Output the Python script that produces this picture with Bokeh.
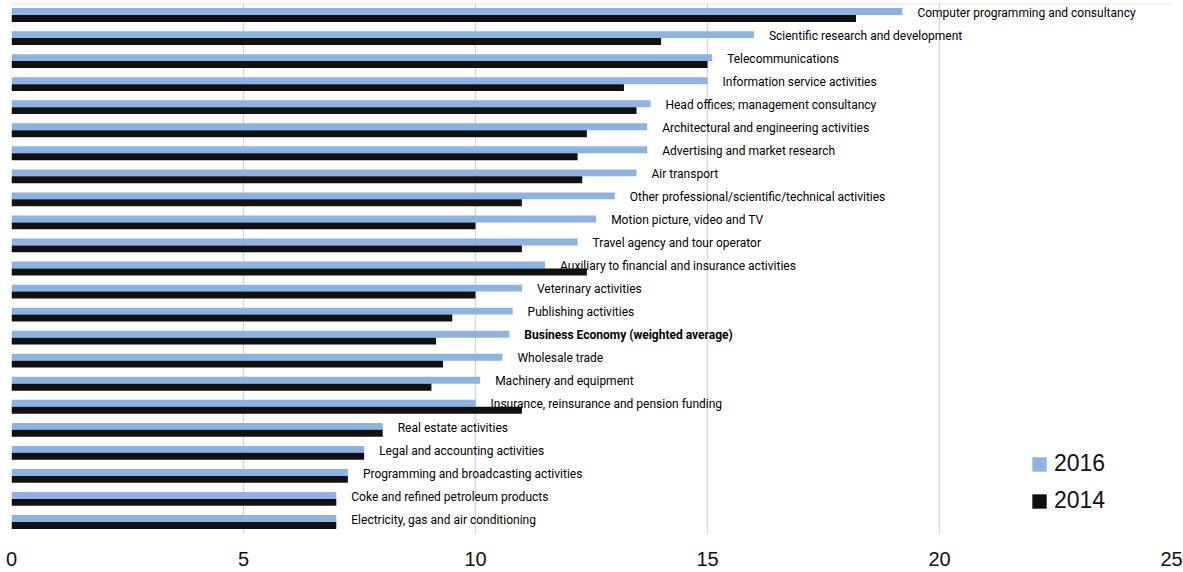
from bokeh.plotting import figure
from bokeh.models import Span, ColumnDataSource, Range1d
from bokeh.core.properties import value
from bokeh.embed import file_html
from bokeh.resources import INLINE

categories = [
    "Computer programming and consultancy",
    "Scientific research and development",
    "Telecommunications",
    "Information service activities",
    "Head offices; management consultancy",
    "Architectural and engineering activities",
    "Advertising and market research",
    "Air transport",
    "Other professional/scientific/technical activities",
    "Motion picture, video and TV",
    "Travel agency and tour operator",
    "Auxiliary to financial and insurance activities",
    "Veterinary activities",
    "Publishing activities",
    "Business Economy (weighted average)",
    "Wholesale trade",
    "Machinery and equipment",
    "Insurance, reinsurance and pension funding",
    "Real estate activities",
    "Legal and accounting activities",
    "Programming and broadcasting activities",
    "Coke and refined petroleum products",
    "Electricity, gas and air conditioning",
]
values_2016 = [19.2, 16.0, 15.1, 15.0, 13.77, 13.7, 13.7, 13.47, 13.0, 12.6, 12.2,
               11.5, 11.0, 10.8, 10.73, 10.58, 10.1, 10.0, 8.0, 7.6, 7.25, 7.0, 7.0]
values_2014 = [18.2, 14.0, 15.0, 13.2, 13.47, 12.4, 12.2, 12.3, 11.0, 10.0, 11.0,
               12.4, 10.0, 9.5, 9.15, 9.3, 9.05, 11.0, 8.0, 7.6, 7.25, 7.0, 7.0]
x_ticks = [0, 5, 10, 15, 20, 25]

n = len(categories)
ypos = [n - 1 - i for i in range(n)]
styles = ["bold" if c.startswith("Business Economy") else "normal" for c in categories]

src = ColumnDataSource(dict(
    cat=categories, v16=values_2016, v14=values_2014,
    y16=[y + 0.15 for y in ypos], y14=[y - 0.15 for y in ypos],
    ylab=[y + 0.1 for y in ypos], style=styles,
))

BLUE = "#8DB3E2"
BLACK = "#111111"
GRID = "#d9d9d9"

p = figure(width=1183, height=572, output_backend="svg", toolbar_location=None,
           x_range=Range1d(0, 25), y_range=Range1d(-0.5, n - 0.5),
           min_border_left=11, min_border_right=12, min_border_top=3, min_border_bottom=39)
p.outline_line_color = None
p.background_fill_color = "white"

p.hbar(y="y16", left=0, right="v16", height=0.3, source=src, fill_color=BLUE,
       line_color=None, legend_label="2016")
p.hbar(y="y14", left=0, right="v14", height=0.3, source=src, fill_color=BLACK,
       line_color=None, legend_label="2014")

p.text(x="v16", y="ylab", text="cat", source=src, x_offset=15, text_baseline="middle",
       text_align="left", text_font=value("Roboto"), text_font_size="12px",
       text_font_style="style", text_color="#000000")

p.add_layout(Span(location=n - 0.5, dimension="width", line_color=GRID, line_width=1.5))

p.xaxis.ticker = x_ticks
p.xgrid.ticker = x_ticks
p.xgrid.grid_line_color = GRID
p.xgrid.grid_line_width = 1.5
p.ygrid.visible = False
p.yaxis.visible = False
p.xaxis.axis_line_color = None
p.xaxis.major_tick_line_color = None
p.xaxis.minor_tick_line_color = None
p.xaxis.major_label_text_font = "Liberation Sans"
p.xaxis.major_label_text_font_size = "20px"
p.xaxis.major_label_text_color = "#111111"
p.xaxis.major_label_standoff = 12

lg = p.legend[0]
lg.location = (1019, 19)
lg.label_text_font = "Liberation Sans"
lg.label_text_font_size = "23px"
lg.label_text_color = "#111111"
lg.glyph_width = 18
lg.glyph_height = 18
lg.label_standoff = 6
lg.spacing = 10
lg.padding = 0
lg.margin = 0
lg.border_line_color = None
lg.background_fill_alpha = 0

open("out.html", "w").write(file_html(p, INLINE))
